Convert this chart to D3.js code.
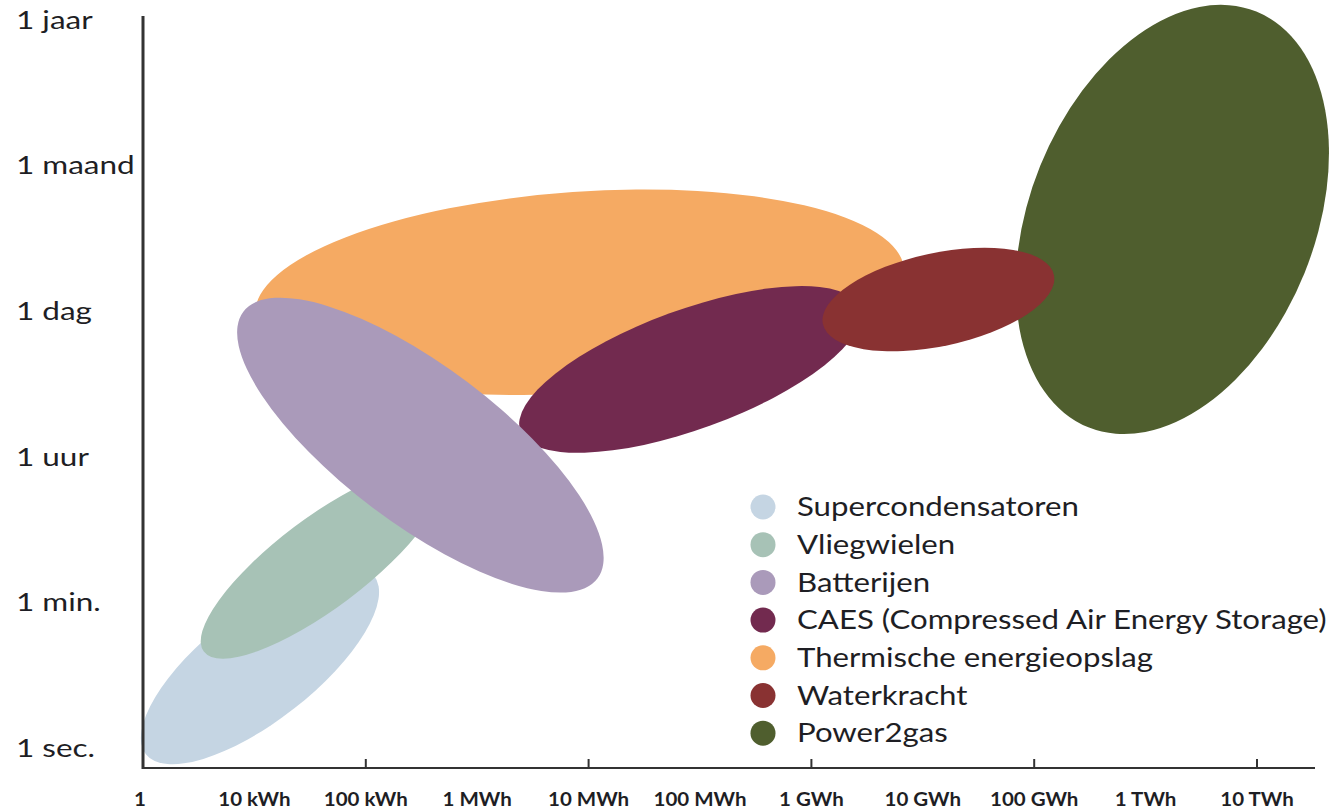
<!DOCTYPE html>
<html>
<head>
<meta charset="utf-8">
<script src="https://cdn.jsdelivr.net/npm/d3@7"></script>
<style>
  body { margin: 0; background: #fff; }
  svg text { font-family: Lato, "Open Sans", sans-serif; fill: #1e1e24; }
</style>
</head>
<body>
<svg id="chart" width="1334" height="810"></svg>
<script>
// Opslagcapaciteit (log10 kWh) en tijdsduur (index op de y-as)
const energyTicks = [0, 1, 2, 3, 4, 5, 6, 7, 8, 9, 10];
const energyLabels = ["1", "10 kWh", "100 kWh", "1 MWh", "10 MWh", "100 MWh", "1 GWh", "10 GWh", "100 GWh", "1 TWh", "10 TWh"];
const durationLabels = ["1 sec.", "1 min.", "1 uur", "1 dag", "1 maand", "1 jaar"];

// technologieën in tekenvolgorde (onderste eerst)
const techNames = ["Thermische energieopslag", "Power2gas", "CAES (Compressed Air Energy Storage)", "Waterkracht", "Supercondensatoren", "Vliegwielen", "Batterijen"];
const techEnergy = [3.92, 9.24, 4.91, 7.14, 1.05, 1.60, 2.49];   // middelpunt, decaden
const techDuration = [3.13, 3.63, 2.60, 3.08, 0.57, 1.27, 2.08];  // middelpunt, y-index
const techSpanEnergy = [2.92, 1.28, 1.62, 1.06, 1.30, 1.32, 1.99]; // halve as, decaden
const techSpanDuration = [0.69, 1.54, 0.41, 0.32, 0.38, 0.31, 0.54]; // halve as, y-index
const techTilt = [-4, 22, -20, -12, -38, -37, 37];

// legendavolgorde
const legendNames = ["Supercondensatoren", "Vliegwielen", "Batterijen", "CAES (Compressed Air Energy Storage)", "Thermische energieopslag", "Waterkracht", "Power2gas"];
const colors = {
  "Supercondensatoren": "#c5d5e3",
  "Vliegwielen": "#a7c2b6",
  "Batterijen": "#aa9aba",
  "CAES (Compressed Air Energy Storage)": "#722a4f",
  "Thermische energieopslag": "#f5aa63",
  "Waterkracht": "#893232",
  "Power2gas": "#4f5e2e"
};

const svg = d3.select("#chart");

// scales
const x = d3.scaleLinear().domain([0, 10]).range([143, 1257]);
const y = d3.scaleLinear().domain([0, 5]).range([748, 20]);

const techs = techNames.map((name, i) => ({
  name,
  cx: techEnergy[i],
  cy: techDuration[i],
  rx: techSpanEnergy[i],
  ry: techSpanDuration[i],
  tilt: techTilt[i]
}));

// ellipses
svg.append("g")
  .selectAll("ellipse")
  .data(techs)
  .enter()
  .append("ellipse")
  .attr("transform", d => `translate(${x(d.cx)},${y(d.cy)}) rotate(${d.tilt})`)
  .attr("rx", d => x(d.rx) - x(0))
  .attr("ry", d => y(0) - y(d.ry))
  .attr("fill", d => colors[d.name]);

// x-axis: line with upward ticks every two decades
const xAxisY = 768;
svg.append("line")
  .attr("x1", 143).attr("x2", 1315)
  .attr("y1", xAxisY).attr("y2", xAxisY)
  .attr("stroke", "#333").attr("stroke-width", 2);

svg.append("g")
  .selectAll("line")
  .data(energyTicks.filter(d => d % 2 === 0 && d > 0))
  .enter()
  .append("line")
  .attr("x1", d => x(d)).attr("x2", d => x(d))
  .attr("y1", xAxisY).attr("y2", xAxisY - 9)
  .attr("stroke", "#333").attr("stroke-width", 2);

// labels are a bit wider than the font, so stretch them horizontally
svg.append("g")
  .selectAll("text")
  .data(energyTicks)
  .enter()
  .append("text")
  .attr("transform", d => `translate(${d === 0 ? x(d) - 3 : x(d)},806) scale(1.08,1)`)
  .attr("text-anchor", "middle")
  .attr("font-size", 19)
  .attr("font-weight", "bold")
  .text((d, i) => energyLabels[i]);

// y-axis
svg.append("line")
  .attr("x1", 143).attr("x2", 143)
  .attr("y1", 16).attr("y2", xAxisY + 1)
  .attr("stroke", "#333").attr("stroke-width", 3);

svg.append("g")
  .selectAll("text")
  .data(durationLabels)
  .enter()
  .append("text")
  .attr("transform", (d, i) => `translate(16,${y(i)}) scale(1.26,1)`)
  .attr("dy", "0.35em")
  .attr("font-size", 25)
  .text(d => d);

// legend
const legend = svg.append("g")
  .selectAll("g")
  .data(legendNames)
  .enter()
  .append("g")
  .attr("transform", (d, i) => `translate(763,${507 + i * 37.7})`);

legend.append("circle")
  .attr("r", 12.5)
  .attr("fill", d => colors[d]);

legend.append("text")
  .attr("transform", "translate(34,0) scale(1.2,1)")
  .attr("dy", "0.35em")
  .attr("font-size", 26)
  .text(d => d);
</script>
</body>
</html>
